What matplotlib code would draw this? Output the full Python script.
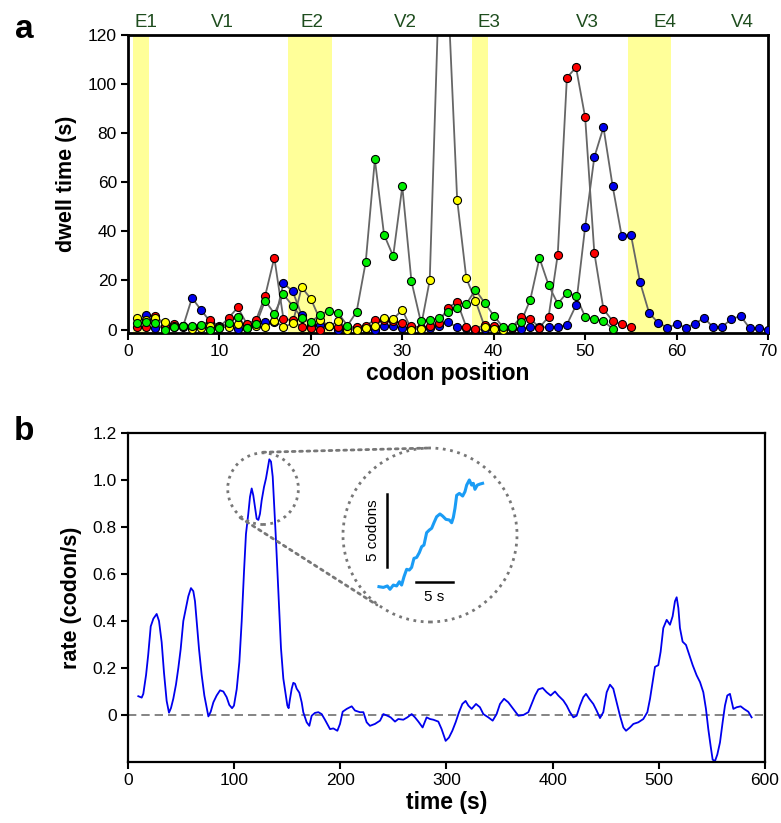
import matplotlib
matplotlib.use('Agg')
import matplotlib.pyplot as plt
from matplotlib.patches import Ellipse, ConnectionPatch

plt.rcParams['font.family'] = ['Liberation Sans', 'DejaVu Sans']

# ---------------- panel a data ----------------
red_codon = list(range(1, 56))
red_dwell = [1.0, 1.0, 5.6, 1.5, 2.3, 1.5, 1.0, 1.5, 3.8, 1.0,
             4.7, 9.0, 2.3, 3.8, 13.7, 29.3, 4.3, 3.8, 0.9, 0.6,
             0.0, 1.3, 1.0, 1.0, 1.0, 1.5, 4.0, 3.8, 3.5, 2.7,
             1.5, 0.8, 1.5, 2.8, 8.9, 11.3, 1.0, 0.2, 2.0, 1.5,
             0.8, 0.8, 5.3, 4.4, 0.8, 5.2, 30.5, 102.6, 106.8, 86.4,
             31.3, 8.3, 3.5, 2.1, 1.2]

blue_codon = list(range(2, 71))
blue_dwell = [6.0, 0.8, 1.0, 1.2, 1.0, 12.9, 7.9, 3.2, 1.5, 2.0,
              0.3, 1.5, 2.0, 2.9, 3.0, 18.8, 15.7, 5.8, 2.0, 1.9,
              1.5, 0.0, 0.5, 0.5, 0.5, 0.0, 1.6, 1.6, 0.5, 0.5,
              0.8, 0.8, 1.5, 2.9, 1.0, 0.8, 0.0, 0.2, 0.5, 0.5,
              0.8, 0.2, 1.2, 0.9, 0.9, 0.9, 2.0, 9.9, 41.9, 70.2,
              82.4, 58.5, 38.0, 38.7, 19.3, 6.7, 2.7, 0.8, 2.2, 0.8,
              2.3, 4.8, 0.9, 1.2, 4.3, 5.5, 0.5, 0.5, 0.0]

green_codon = list(range(1, 54))
green_dwell = [2.7, 3.0, 2.7, 0.0, 1.0, 1.6, 1.6, 2.0, 0.0, 0.7,
               2.7, 5.3, 0.7, 2.1, 11.8, 6.5, 14.3, 9.7, 4.8, 3.0,
               6.1, 7.7, 6.6, 1.6, 7.2, 27.5, 69.3, 38.7, 29.9, 58.3,
               19.6, 3.6, 3.9, 4.6, 7.3, 8.6, 10.4, 16.2, 10.9, 5.7,
               1.0, 1.1, 3.2, 12.2, 29.1, 18.1, 10.5, 15.0, 13.7, 5.2,
               4.3, 3.5, 0.3]

yellow_codon = list(range(1, 42))
yellow_dwell = [4.7, 4.0, 4.7, 3.0, 1.5, 1.3, 0.3, 0.7, 1.5, 1.0,
                1.0, 2.4, 0.7, 1.5, 0.9, 3.6, 1.0, 2.5, 17.2, 12.5,
                4.0, 1.3, 3.5, 0.0, 0.0, 0.8, 1.6, 4.6, 4.3, 8.0,
                0.0, 0.4, 20.1, 138.0, 137.0, 52.9, 20.9, 11.8, 1.2, 0.2,
                0.0]

exit_regions = [(0.5, 2.3), (17.5, 22.3), (37.6, 39.4), (54.7, 59.4)]
region_labels = ['E1', 'V1', 'E2', 'V2', 'E3', 'V3', 'E4', 'V4']
region_label_x = [2.0, 10.3, 20.1, 30.3, 39.5, 50.2, 58.7, 67.2]

# ---------------- panel b data ----------------
rate_time = [9.7, 12.9, 14.4, 17, 19, 21.4, 23.9, 27, 29.2, 31.7,
             33.9, 36.4, 38.6, 40.5, 42.7, 45.2, 47.4, 49.6, 52.1, 54.6,
             56.8, 59.3, 61.5, 63.1, 64.7, 66.9, 69.4, 71.9, 74.1, 75.7,
             77.9, 80.4, 83.5, 86.7, 89.8, 92.9, 95.4, 98, 99.8, 102.4,
             104.9, 107.1, 109.3, 111.1, 113.3, 114.9, 116.5, 118, 119.6, 121.2,
             122.8, 124.3, 125.9, 128.1, 130, 131.9, 133.1, 134.7, 136.3, 137.8,
             139.4, 141, 142.5, 144.1, 146.3, 148.2, 150.1, 151.3, 152.6, 154.2,
             155.7, 157.3, 158.9, 161.4, 163.6, 165.1, 168.3, 170.8, 173, 176.1,
             179.3, 182.4, 185.5, 190.3, 193.4, 197.2, 199.7, 202.2, 206, 210.7,
             213.8, 218.5, 221.7, 224.8, 227.9, 232.6, 237.4, 240.5, 244.3, 247.4,
             251.5, 254.6, 259.3, 263.1, 267.2, 270.3, 273.5, 277.5, 281.3, 284.4,
             287.6, 292.3, 295.4, 299.2, 302.3, 305.5, 308.6, 311.8, 314.9, 318,
             320.6, 323.7, 327.8, 331.5, 334.7, 339.4, 343.5, 347.2, 350.4, 354.2,
             358.2, 362.9, 367.7, 372.4, 377.1, 380.2, 383.4, 386.5, 390.6, 394.3,
             398.1, 402.2, 405.3, 410, 413.2, 416.3, 419.5, 422.6, 425.7, 428.9,
             431.4, 434.5, 438.3, 441.4, 444.6, 447.7, 450.9, 454, 457.1, 460.3,
             463.4, 466.6, 469.1, 472.8, 476, 480.7, 485.4, 489.2, 491.7, 494.2,
             496.4, 499.5, 501.7, 504.2, 507.4, 510.5, 513, 515.2, 516.8, 518.4,
             519.9, 522.4, 525.6, 528.7, 531.9, 535.6, 538.8, 541.9, 544.4, 546.6,
             548.8, 550.7, 552.9, 555.1, 557.6, 560.1, 562.3, 564.5, 567, 569.2,
             570.2, 573.3, 577.1, 580.2, 584.3, 587.4]
rate_value = [0.080, 0.074, 0.090, 0.170, 0.255, 0.377, 0.410, 0.430, 0.400, 0.310,
              0.180, 0.060, 0.010, 0.030, 0.070, 0.130, 0.200, 0.280, 0.400, 0.455,
              0.505, 0.540, 0.527, 0.484, 0.400, 0.280, 0.170, 0.083, 0.030, -0.006,
              0.014, 0.054, 0.083, 0.105, 0.100, 0.076, 0.043, 0.029, 0.040, 0.110,
              0.226, 0.400, 0.613, 0.770, 0.856, 0.928, 0.964, 0.935, 0.885, 0.835,
              0.830, 0.856, 0.913, 0.970, 1.007, 1.057, 1.088, 1.078, 1.014, 0.885,
              0.742, 0.584, 0.427, 0.284, 0.155, 0.097, 0.040, 0.029, 0.069, 0.112,
              0.137, 0.133, 0.112, 0.095, 0.054, 0.012, -0.031, -0.046, -0.003, 0.009,
              0.012, 0.004, -0.020, -0.060, -0.057, -0.067, -0.038, 0.014, 0.026, 0.037,
              0.019, 0.012, 0.012, -0.031, -0.046, -0.038, -0.024, 0.004, -0.003, -0.010,
              -0.028, -0.017, -0.020, -0.010, 0.004, -0.010, -0.028, -0.053, -0.010, -0.017,
              -0.020, -0.028, -0.060, -0.110, -0.096, -0.067, -0.031, 0.012, 0.047, 0.060,
              0.040, 0.026, 0.047, 0.033, 0.004, -0.010, -0.024, 0.004, 0.047, 0.069,
              0.054, 0.026, -0.003, 0.000, 0.012, 0.047, 0.083, 0.109, 0.115, 0.097,
              0.083, 0.100, 0.083, 0.062, 0.040, 0.012, -0.010, -0.003, 0.040, 0.076,
              0.090, 0.069, 0.047, 0.019, -0.013, 0.012, 0.097, 0.129, 0.112, 0.054,
              -0.003, -0.053, -0.067, -0.053, -0.038, -0.031, -0.017, 0.012, 0.069, 0.140,
              0.205, 0.212, 0.269, 0.370, 0.405, 0.384, 0.420, 0.484, 0.501, 0.455,
              0.370, 0.312, 0.298, 0.255, 0.212, 0.169, 0.140, 0.097, 0.026, -0.060,
              -0.132, -0.190, -0.196, -0.168, -0.117, -0.031, 0.040, 0.083, 0.090, 0.047,
              0.026, 0.033, 0.037, 0.026, 0.014, -0.010]

# inset: position trace (s, codons)
inset_time = [0, 0.59, 1.13, 1.49, 1.94, 2.39, 2.75, 3.06, 3.38, 3.74,
              4.10, 4.41, 4.73, 5.09, 5.45, 5.77, 6.08, 6.44, 6.80, 7.12,
              7.43, 7.79, 8.24, 8.60, 9.05, 9.50, 9.82, 10.05, 10.27, 10.50,
              10.86, 11.31, 11.62, 11.85, 12.21, 12.52, 12.75, 12.97, 13.29, 13.65,
              14.0]
inset_codons = [0, -0.05, 0.05, -0.18, 0.11, 0.05, 0.34, 0.11, 0.68, 1.19,
                1.14, 1.32, 1.94, 2.00, 2.33, 2.74, 2.85, 3.70, 3.88, 4.00,
                4.38, 4.79, 4.98, 4.84, 4.61, 4.57, 4.38, 4.75, 5.37, 6.26,
                6.39, 6.21, 6.51, 6.96, 7.31, 6.96, 7.08, 6.67, 6.96, 7.03,
                7.08]

# ---------------- figure ----------------
fig = plt.figure(figsize=(7.81, 8.23), dpi=100)

# ===== panel a =====
axa = fig.add_axes([0.1639, 0.5954, 0.8195, 0.3621])
for lo, hi in exit_regions:
    axa.axvspan(lo, hi, color='#ffff99', zorder=0, lw=0)

series = [(blue_codon, blue_dwell, '#0000ee'),
          (red_codon, red_dwell, '#ff0000'),
          (yellow_codon, yellow_dwell, '#ffff00'),
          (green_codon, green_dwell, '#00ee00')]
for xs, ys, c in series:
    axa.plot(xs, ys, '-', color='#666666', lw=1.3, zorder=2)
for xs, ys, c in series:
    axa.plot(xs, ys, 'o', ms=5.8, mfc=c, mec='black', mew=0.8, zorder=3, ls='none')

axa.set_xlim(0, 70)
axa.set_ylim(-1.4, 120)
axa.set_xticks(range(0, 71, 10))
axa.set_yticks(range(0, 121, 20))
axa.tick_params(direction='out', length=5, width=1.5, labelsize=12.5, pad=3)
for sp in axa.spines.values():
    sp.set_linewidth(2.0)
axa.set_xlabel('codon position', fontsize=16.5, fontweight='bold', labelpad=2)
axa.set_ylabel('dwell time (s)', fontsize=15.5, fontweight='bold', labelpad=8)
for lab, xp in zip(region_labels, region_label_x):
    axa.text(xp, 1.012, lab, transform=axa.get_xaxis_transform(),
             ha='center', va='bottom', fontsize=13.5, color='#1e4d1e')

fig.text(24 / 781, 1 - 30 / 823, 'a', fontsize=24, fontweight='bold',
         ha='center', va='center')

# ===== panel b =====
axb = fig.add_axes([0.1639, 0.0741, 0.8156, 0.3998])
axb.axhline(0, color='#707070', lw=1.2, dashes=(5, 3), zorder=1)
axb.plot(rate_time, rate_value, color='#0000ee', lw=1.3, zorder=2)
axb.set_xlim(0, 600)
axb.set_ylim(-0.2, 1.2)
axb.set_xticks(range(0, 601, 100))
yt = [0, 0.2, 0.4, 0.6, 0.8, 1.0, 1.2]
axb.set_yticks(yt)
axb.set_yticklabels(['0' if v == 0 else f'{v:.1f}' for v in yt])
axb.tick_params(direction='out', length=5, width=1.5, labelsize=12.5, pad=3)
for sp in axb.spines.values():
    sp.set_linewidth(1.6)
axb.set_xlabel('time (s)', fontsize=16.5, fontweight='bold', labelpad=2)
axb.set_ylabel('rate (codon/s)', fontsize=15.5, fontweight='bold', labelpad=8)

fig.text(24 / 781, 1 - 432 / 823, 'b', fontsize=24, fontweight='bold',
         ha='center', va='center')

# zoom ellipse around the peak
ell = Ellipse((127.2, 0.963), 66.5, 0.305, fill=False, ls=':', lw=2.0,
              ec='#777777', zorder=3)
axb.add_patch(ell)

# inset
axi = fig.add_axes([343 / 781, 1 - 622 / 823, 174 / 781, 174 / 823])
axi.set_xlim(-4.86, 18.65)
axi.set_ylim(-2.42, 9.5)
axi.axis('off')
axi.patch.set_alpha(0)
circ = Ellipse((0.5, 0.5), 1.0, 1.0, transform=axi.transAxes, fill=False,
               ls=':', lw=2.0, ec='#777777', clip_on=False)
axi.add_patch(circ)
axi.plot(inset_time, inset_codons, color='#1a9cf5', lw=2.2, clip_on=False)
axi.plot([1.08, 1.08], [1.35, 6.35], color='black', lw=1.8)
axi.text(-0.75, 3.85, '5 codons', rotation=90, ha='center', va='center', fontsize=11)
axi.plot([5.0, 10.0], [0.32, 0.32], color='black', lw=1.8)
axi.text(7.5, -0.25, '5 s', ha='center', va='top', fontsize=11)

# connector lines
for (xd, yd), (xa, ya) in [((127.0, 1.118), (0.5, 1.0)),
                           ((105.5, 0.84), (0.195, 0.098))]:
    con = ConnectionPatch(xyA=(xd, yd), coordsA=axb.transData,
                          xyB=(xa, ya), coordsB=axi.transAxes,
                          ls=':', lw=2.0, color='#777777')
    fig.add_artist(con)

fig.savefig('out.png', dpi=100)
